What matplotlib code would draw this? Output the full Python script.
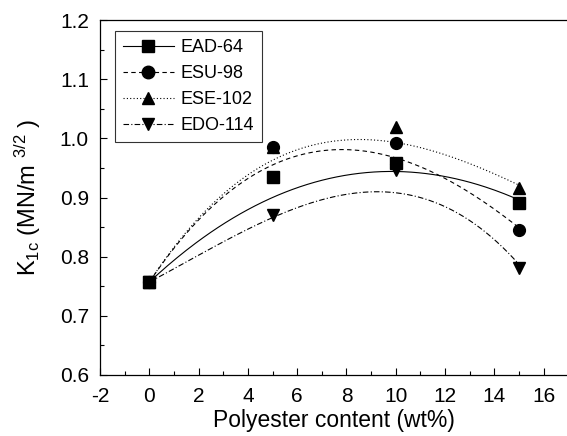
import numpy as np
import matplotlib.pyplot as plt
from matplotlib.ticker import MultipleLocator

plt.rcParams['font.family'] = ['Liberation Sans', 'DejaVu Sans']
plt.rcParams['mathtext.fontset'] = 'custom'
plt.rcParams['mathtext.rm'] = 'Liberation Sans'
plt.rcParams['mathtext.it'] = 'Liberation Sans'
plt.rcParams['axes.unicode_minus'] = False

# polyester content (wt%)
content = [0, 5, 10, 15]

ead_64 = [0.757, 0.935, 0.958, 0.891]
esu_98 = [0.757, 0.985, 0.992, 0.845]
ese_102 = [0.757, 0.986, 1.019, 0.916]
edo_114 = [0.757, 0.871, 0.946, 0.781]

# smoothed trend curves at the same contents
ead_64_fit = [0.757, 0.900, 0.944, 0.896]
esu_98_fit = [0.757, 0.955, 0.967, 0.849]
ese_102_fit = [0.757, 0.963, 0.993, 0.921]
edo_114_fit = [0.757, 0.866, 0.908, 0.787]

series = [
    ("EAD-64", ead_64, ead_64_fit, 's', '-'),
    ("ESU-98", esu_98, esu_98_fit, 'o', (0, (4, 3))),
    ("ESE-102", ese_102, ese_102_fit, '^', (0, (1, 2))),
    ("EDO-114", edo_114, edo_114_fit, 'v', (0, (5, 2, 1, 2))),
]

fig = plt.figure(figsize=(5.67, 4.36), dpi=100)
ax = fig.add_axes([0.1764, 0.14, 0.8236, 0.814])

xs = np.linspace(0, 15, 200)
for name, vals, fit, mk, ls in series:
    coef = np.polyfit(content, fit, 3)
    ax.plot(xs, np.polyval(coef, xs), color='black', lw=0.8, ls=ls)
    ax.plot(content, vals, ls='none', marker=mk, color='black', ms=8.5)
    ax.plot([], [], color='black', lw=0.8, ls=ls, marker=mk, ms=9, label=name)

ax.set_xlim(-2, 16.95)
ax.set_ylim(0.6, 1.2)
ax.xaxis.set_major_locator(MultipleLocator(2))
ax.xaxis.set_minor_locator(MultipleLocator(1))
ax.yaxis.set_major_locator(MultipleLocator(0.1))
ax.yaxis.set_minor_locator(MultipleLocator(0.05))
ax.yaxis.set_major_formatter(plt.FormatStrFormatter('%.1f'))
ax.tick_params(which='both', direction='in', labelsize=15, top=False, right=False)
ax.tick_params(which='major', length=5, width=0.8)
ax.tick_params(which='minor', length=3, width=0.8)
ax.tick_params(axis='y', pad=8)
ax.tick_params(axis='x', pad=9)
ax.spines['right'].set_visible(False)
for s in ['left', 'bottom', 'top']:
    ax.spines[s].set_linewidth(0.9)

ax.set_xlabel("Polyester content (wt%)", fontsize=16.5, labelpad=2)
ax.set_ylabel(r"K$_{\rm 1c}$ (MN/m $^{\rm 3/2}$ )", fontsize=17, labelpad=12)

leg = ax.legend(loc='upper left', bbox_to_anchor=(0.032, 0.969), borderaxespad=0,
                fontsize=13, frameon=True, fancybox=False, edgecolor='black',
                handlelength=2.8, handletextpad=0.4, labelspacing=0.5, borderpad=0.45)
leg.get_frame().set_linewidth(0.8)

fig.savefig("out.png", dpi=100)
